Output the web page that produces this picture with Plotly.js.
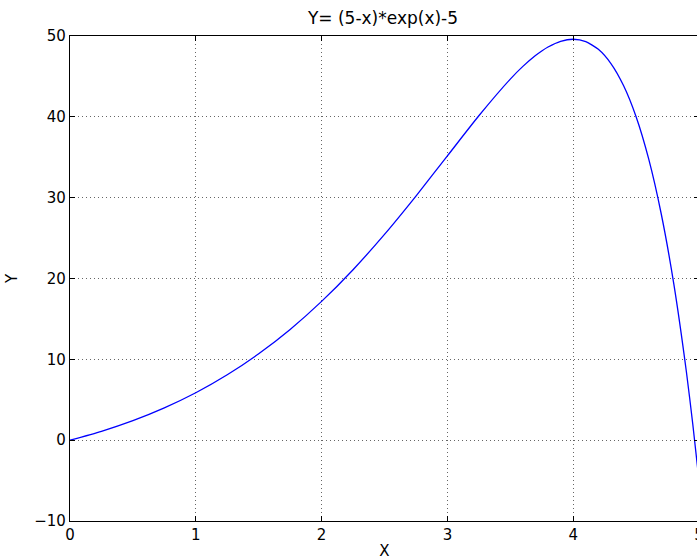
<!DOCTYPE html>
<html><head><meta charset="utf-8">
<script src="https://cdn.plot.ly/plotly-3.0.1.min.js"></script>
<style>html,body{margin:0;padding:0;overflow:hidden;background:#fff;}</style>
</head><body><div id="chart"></div>
<script>
var xValues = [0, 0.25, 0.5, 0.75, 1.0, 1.25, 1.5, 1.75, 2.0, 2.25, 2.5, 2.75, 3.0, 3.25, 3.5, 3.6, 3.7, 3.75, 3.8, 3.9, 4.0, 4.1, 4.2, 4.3, 4.4, 4.5, 4.6, 4.7, 4.8, 4.9, 4.95, 5.0];
var yValues = [0, 1.10, 2.42, 4.00, 5.87, 8.09, 10.69, 13.70, 17.17, 21.09, 25.46, 30.20, 35.17, 40.13, 44.67, 46.24, 47.58, 48.15, 48.64, 49.34, 49.60, 49.31, 48.35, 46.59, 43.87, 40.01, 34.79, 27.98, 19.30, 8.43, 2.06, -5.0];
var xTicks = [0, 1, 2, 3, 4, 5];
var yTicks = [-10, 0, 10, 20, 30, 40, 50];
var yTickLabels = ['\u221210', '0', '10', '20', '30', '40', '50'];

var font = {family: 'DejaVu Sans', size: 15, color: '#000'};
var trace = {
  x: xValues, y: yValues, type: 'scatter', mode: 'lines',
  line: {color: '#0000ff', width: 1.3, shape: 'spline', smoothing: 0.6},
  cliponaxis: true, hoverinfo: 'none'
};
var layout = {
  width: 699, height: 560,
  margin: {l: 70, r: 0, t: 36, b: 39, pad: 0},
  paper_bgcolor: '#fff', plot_bgcolor: '#fff',
  showlegend: false,
  title: {text: 'Y= (5-x)*exp(x)-5', font: {family: 'DejaVu Sans', size: 17, color: '#000'}, x: 383/699, xref: 'container', xanchor: 'center', y: 1 - 18/560, yref: 'container', yanchor: 'middle'},
  xaxis: {
    range: [0, 5], tickvals: xTicks, ticktext: xTicks.map(String),
    ticks: 'inside', ticklen: 5, tickcolor: '#000', tickwidth: 1,
    showline: true, linecolor: '#000', linewidth: 1.2, mirror: 'ticks',
    showgrid: true, gridcolor: '#666', griddash: '1px,3px', gridwidth: 1,
    zeroline: false, tickfont: font, ticklabeloverflow: 'allow',
    title: {text: 'X', font: font, standoff: 4}
  },
  yaxis: {
    range: [-10, 50], tickvals: yTicks, ticktext: yTickLabels,
    ticks: 'inside', ticklen: 5, tickcolor: '#000', tickwidth: 1,
    showline: true, linecolor: '#000', linewidth: 1.2, mirror: 'ticks',
    showgrid: true, gridcolor: '#666', griddash: '1px,3px', gridwidth: 1,
    zeroline: false, tickfont: font, ticklabeloverflow: 'allow',
    title: {text: 'Y', font: font, standoff: 12}
  }
};
Plotly.newPlot('chart', [trace], layout, {displayModeBar: false, staticPlot: true});
</script></body></html>
